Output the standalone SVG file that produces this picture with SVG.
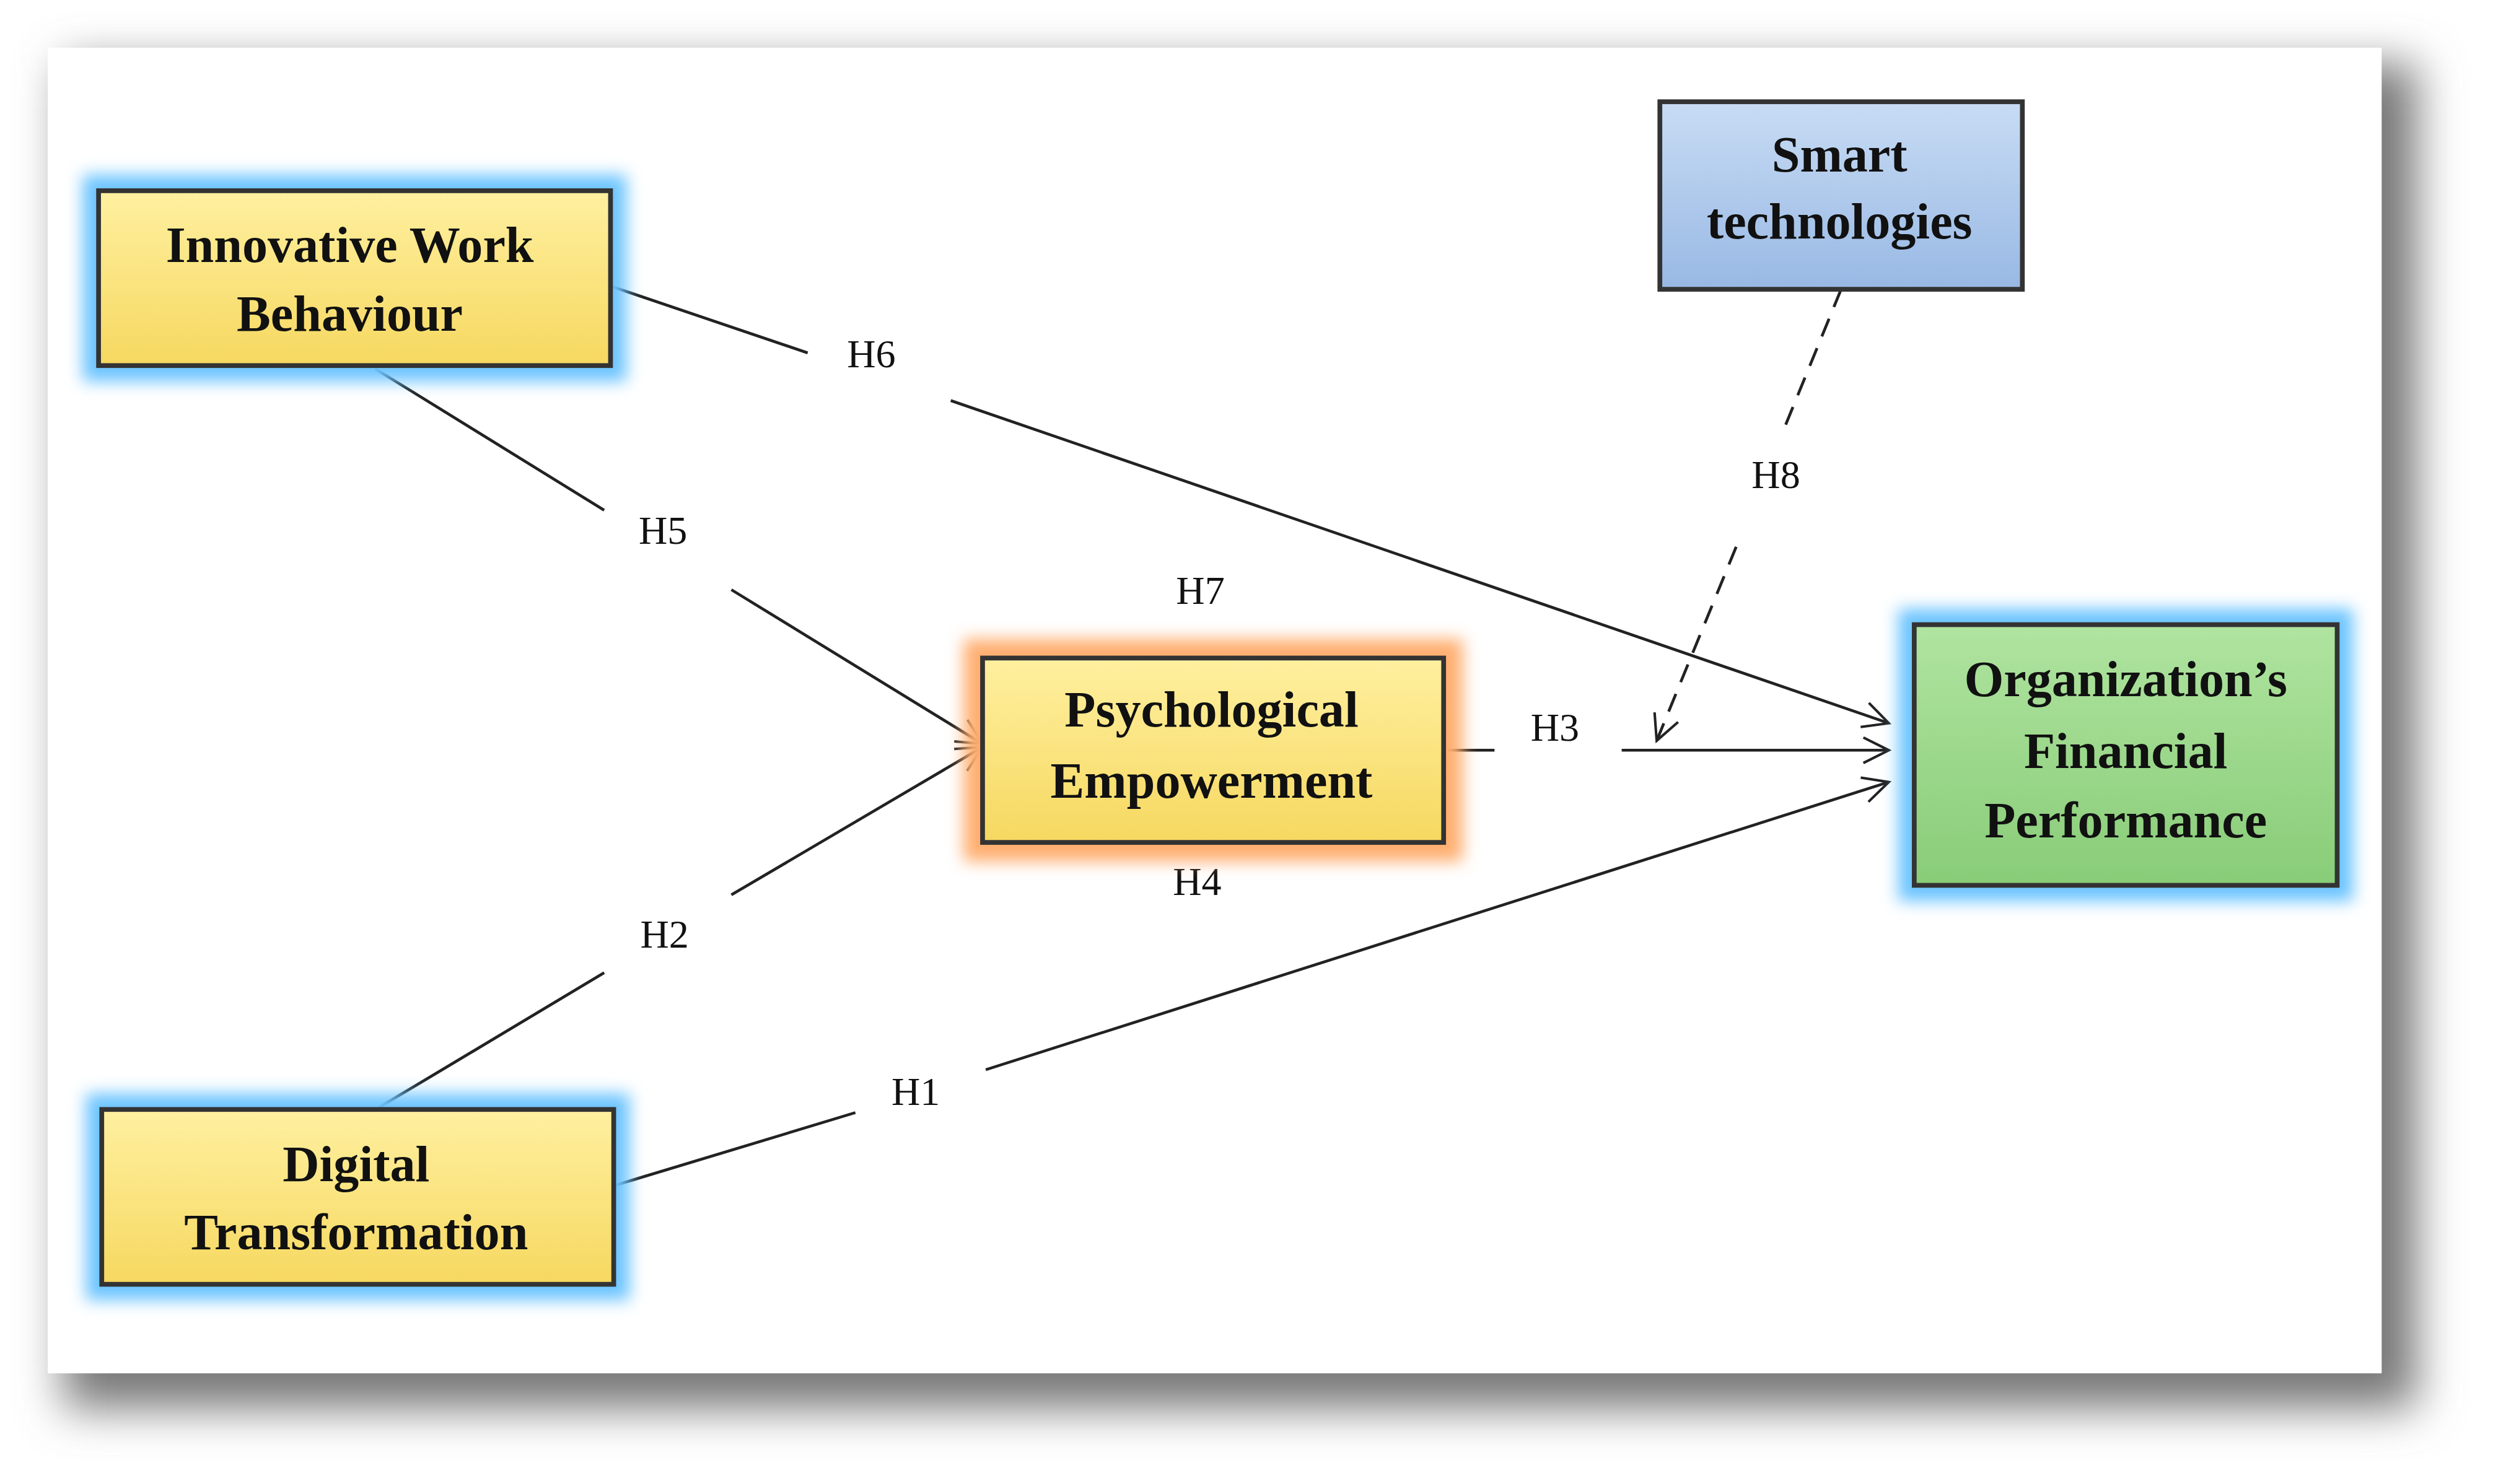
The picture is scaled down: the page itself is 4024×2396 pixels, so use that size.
<svg xmlns="http://www.w3.org/2000/svg" width="4024" height="2396" viewBox="0 0 4024 2396">
<defs>
<filter id="shadow" x="-10%" y="-10%" width="130%" height="130%"><feGaussianBlur stdDeviation="14"/></filter>
<filter id="glow" x="-20%" y="-30%" width="140%" height="160%"><feGaussianBlur stdDeviation="5"/></filter>
<linearGradient id="yel" x1="0" y1="0" x2="0" y2="1"><stop offset="0" stop-color="#fff0a0"/><stop offset="1" stop-color="#f6d860"/></linearGradient>
<linearGradient id="blu" x1="0" y1="0" x2="0" y2="1"><stop offset="0" stop-color="#c8dcf4"/><stop offset="1" stop-color="#98b8e4"/></linearGradient>
<linearGradient id="grn" x1="0" y1="0" x2="0" y2="1"><stop offset="0" stop-color="#b0e4a0"/><stop offset="1" stop-color="#88cc78"/></linearGradient>
<marker id="arr" viewBox="0 0 20 20" refX="18" refY="10" markerWidth="20" markerHeight="20" markerUnits="userSpaceOnUse" orient="auto"><path d="M2,2 L18,10 L2,18" fill="none" stroke="#222" stroke-width="1.6"/></marker>
<style>
.box{stroke:#333;stroke-width:3}
.bt{font-family:"Liberation Serif",serif;font-weight:bold;font-size:32px;text-anchor:middle;fill:#111}
.lb{font-family:"Liberation Serif",serif;font-size:25px;text-anchor:middle;fill:#111}
.ln{stroke:#222;stroke-width:1.8;fill:none}
</style>
</defs>
<g transform="scale(2.5663)">
<rect x="40" y="40" width="1480" height="846" fill="#777" filter="url(#shadow)"/>
<rect x="30" y="30" width="1468" height="834" fill="#fff"/>
<g id="connectors">
<path class="ln" d="M384,180 L508,222"/><path class="ln" d="M598,252 L1188,455" marker-end="url(#arr)"/>
<path class="ln" d="M236,232 L380,321"/><path class="ln" d="M460,371 L618,468" marker-end="url(#arr)"/>
<path class="ln" d="M238,697 L380,612"/><path class="ln" d="M460,563 L618,470" marker-end="url(#arr)"/>
<path class="ln" d="M386,746 L538,700"/><path class="ln" d="M620,673 L1188,492" marker-end="url(#arr)"/>
<path class="ln" d="M908,472 L940,472"/><path class="ln" d="M1020,472 L1188,472" marker-end="url(#arr)"/>
<path class="ln" d="M1158,182 L1122,270" stroke-dasharray="12,8" stroke-width="2.5"/>
<path class="ln" d="M1092,344 L1042,466" stroke-dasharray="12,8" stroke-width="2.5" marker-end="url(#arr)"/>
<text class="lb" x="548" y="231">H6</text>
<text class="lb" x="417" y="342">H5</text>
<text class="lb" x="418" y="596">H2</text>
<text class="lb" x="576" y="695">H1</text>
<text class="lb" x="978" y="466">H3</text>
<text class="lb" x="1117" y="307">H8</text>
<text class="lb" x="755" y="380">H7</text>
<text class="lb" x="753" y="563">H4</text>
</g>
<g id="iwb">
<rect x="52" y="110" width="342" height="130" fill="#6cc4ff" filter="url(#glow)"/>
<rect class="box" x="62" y="120" width="322" height="110" fill="url(#yel)"/>
<text class="bt" x="220" y="165">Innovative Work</text><text class="bt" x="220" y="208">Behaviour</text>
</g>
<g id="dt">
<rect x="54" y="688" width="342" height="130" fill="#6cc4ff" filter="url(#glow)"/>
<rect class="box" x="64" y="698" width="322" height="110" fill="url(#yel)"/>
<text class="bt" x="224" y="743">Digital</text><text class="bt" x="224" y="786">Transformation</text>
</g>
<g id="pe">
<rect x="606" y="402" width="314" height="140" fill="#ffae70" filter="url(#glow)"/>
<rect class="box" x="618" y="414" width="290" height="116" fill="url(#yel)"/>
<text class="bt" x="762" y="457">Psychological</text><text class="bt" x="762" y="502">Empowerment</text>
</g>
<g id="st">
<rect class="box" x="1044" y="64" width="228" height="118" fill="url(#blu)"/>
<text class="bt" x="1157" y="108">Smart</text><text class="bt" x="1157" y="150">technologies</text>
</g>
<g id="ofp">
<rect x="1194" y="383" width="286" height="184" fill="#6cc4ff" filter="url(#glow)"/>
<rect class="box" x="1204" y="393" width="266" height="164" fill="url(#grn)"/>
<text class="bt" x="1337" y="438">Organization’s</text><text class="bt" x="1337" y="483">Financial</text><text class="bt" x="1337" y="527">Performance</text>
</g>
</g>
</svg>
